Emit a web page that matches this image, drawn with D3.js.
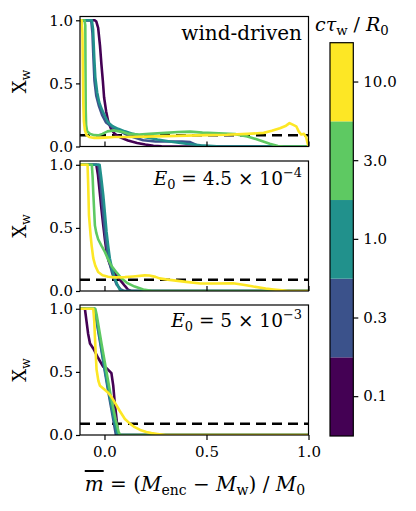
<!DOCTYPE html>
<html>
<head>
<meta charset="utf-8">
<script src="https://cdn.jsdelivr.net/npm/d3@7"></script>
<style>
  body { margin: 0; background: #fff; }
  text { font-family: "DejaVu Serif", serif; fill: #000; }
</style>
</head>
<body>
<script>
// Valores de la leyenda (colorbar) y colores viridis discretos
const colorTicks = ["0.1", "0.3", "1.0", "3.0", "10.0"];
const colors = ["#440154", "#3b528b", "#21918c", "#5ec962", "#fde725"];
const xTicks = [0, 0.5, 1.0];
const yTicks = [0, 0.5, 1.0];
const threshold = 0.09;

// Panel 1: wind-driven
const wind_01 = [[-0.12,1],[-0.048,1],[-0.04,0.99],[-0.031,0.94],[-0.022,0.8],[-0.015,0.65],[-0.008,0.52],[-0.002,0.39],[0.008,0.28],[0.018,0.2],[0.032,0.14],[0.05,0.1],[0.08,0.07],[0.115,0.047],[0.16,0.028],[0.2,0.016],[0.24,0.006],[0.28,0.001],[0.3,0],[1,0]];
const wind_03 = [[-0.12,1],[-0.065,1],[-0.059,0.9],[-0.054,0.7],[-0.049,0.52],[-0.04,0.4],[-0.027,0.32],[-0.012,0.25],[0.008,0.19],[0.04,0.15],[0.077,0.12],[0.12,0.085],[0.19,0.05],[0.25,0.04],[0.32,0.04],[0.38,0.04],[0.42,0.035],[0.45,0.012],[0.48,0.002],[0.52,0],[1,0]];
const wind_1 = [[-0.12,1],[-0.062,1],[-0.056,0.93],[-0.05,0.7],[-0.045,0.55],[-0.036,0.43],[-0.026,0.35],[-0.012,0.29],[0.003,0.24],[0.018,0.19],[0.04,0.16],[0.067,0.14],[0.1,0.12],[0.14,0.1],[0.2,0.074],[0.26,0.055],[0.32,0.04],[0.4,0.022],[0.47,0.01],[0.55,0.002],[0.6,0],[1,0]];
const wind_3 = [[-0.12,1],[-0.098,1],[-0.094,0.96],[-0.093,0.6],[-0.092,0.3],[-0.09,0.17],[-0.085,0.12],[-0.07,0.1],[-0.05,0.09],[-0.031,0.088],[-0.01,0.1],[0.015,0.12],[0.045,0.128],[0.08,0.118],[0.12,0.1],[0.17,0.095],[0.22,0.1],[0.3,0.108],[0.36,0.115],[0.42,0.118],[0.48,0.11],[0.56,0.105],[0.64,0.098],[0.7,0.08],[0.76,0.05],[0.81,0.022],[0.85,0.004],[0.88,0],[1,0]];
const wind_10 = [[-0.12,1],[-0.112,1],[-0.108,0.9],[-0.106,0.6],[-0.104,0.35],[-0.101,0.2],[-0.096,0.13],[-0.088,0.09],[-0.075,0.075],[-0.05,0.068],[-0.03,0.068],[0,0.07],[0.05,0.075],[0.1,0.075],[0.2,0.078],[0.3,0.082],[0.4,0.086],[0.5,0.09],[0.6,0.093],[0.7,0.1],[0.78,0.108],[0.82,0.125],[0.86,0.145],[0.89,0.165],[0.907,0.185],[0.92,0.175],[0.94,0.16],[0.952,0.12],[0.964,0.095],[0.978,0.1],[0.988,0.075],[0.995,0.03],[1.0,0]];

// Panel 2: E0 = 4.5e-4
const e45_01 = [[-0.12,1],[-0.04,1],[-0.032,0.92],[-0.023,0.78],[-0.015,0.65],[-0.006,0.52],[0.002,0.41],[0.01,0.31],[0.02,0.24],[0.034,0.18],[0.05,0.14],[0.065,0.11],[0.083,0.074],[0.1,0.04],[0.116,0.01],[0.13,0],[1,0]];
const e45_03 = [[-0.12,1],[-0.03,1],[-0.02,0.86],[-0.008,0.64],[0.005,0.42],[0.02,0.25],[0.04,0.13],[0.06,0.05],[0.08,0.012],[0.095,0],[1,0]];
const e45_1 = [[-0.12,1],[-0.024,1],[-0.016,0.9],[-0.006,0.76],[0.003,0.6],[0.01,0.47],[0.018,0.36],[0.026,0.26],[0.038,0.17],[0.051,0.1],[0.063,0.05],[0.075,0.01],[0.085,0],[1,0]];
const e45_3 = [[-0.12,1],[-0.062,1],[-0.058,0.9],[-0.055,0.78],[-0.051,0.65],[-0.047,0.52],[-0.04,0.46],[-0.031,0.41],[-0.015,0.36],[0.002,0.31],[0.018,0.25],[0.034,0.2],[0.06,0.145],[0.083,0.1],[0.11,0.065],[0.148,0.035],[0.19,0.012],[0.23,0.002],[0.26,0],[1,0]];
const e45_10 = [[-0.12,1],[-0.083,1],[-0.08,0.85],[-0.076,0.6],[-0.068,0.44],[-0.063,0.36],[-0.055,0.26],[-0.045,0.2],[-0.031,0.15],[-0.01,0.125],[0.018,0.113],[0.05,0.108],[0.1,0.11],[0.14,0.115],[0.197,0.124],[0.22,0.123],[0.25,0.112],[0.27,0.1],[0.3,0.092],[0.34,0.084],[0.4,0.072],[0.47,0.06],[0.55,0.06],[0.63,0.062],[0.68,0.05],[0.73,0.035],[0.79,0.02],[0.83,0.012],[0.87,0.005],[0.9,0],[1,0]];

// Panel 3: E0 = 5e-3
const e5_01 = [[-0.12,1],[-0.096,1],[-0.088,0.9],[-0.08,0.8],[-0.071,0.725],[-0.055,0.686],[-0.031,0.61],[-0.006,0.54],[0.01,0.53],[0.034,0.49],[0.043,0.39],[0.05,0.26],[0.059,0.127],[0.067,0],[1,0]];
const e5_03 = [[-0.12,1],[-0.05,1],[-0.044,0.95],[-0.02,0.72],[0.0,0.52],[0.02,0.33],[0.04,0.15],[0.056,0],[1,0]];
const e5_1 = [[-0.12,1],[-0.048,1],[-0.042,0.95],[-0.018,0.72],[0.004,0.5],[0.026,0.3],[0.046,0.13],[0.064,0],[1,0]];
const e5_3 = [[-0.12,1],[-0.045,1],[-0.038,0.95],[-0.014,0.72],[0.01,0.5],[0.032,0.3],[0.055,0.12],[0.07,0.02],[0.078,0],[1,0]];
const e5_10 = [[-0.12,1],[-0.055,1],[-0.05,0.9],[-0.047,0.78],[-0.043,0.65],[-0.039,0.52],[-0.03,0.43],[-0.022,0.39],[0,0.36],[0.018,0.335],[0.035,0.3],[0.051,0.257],[0.075,0.19],[0.1,0.127],[0.125,0.09],[0.148,0.062],[0.175,0.04],[0.205,0.023],[0.23,0.015],[0.26,0.008],[0.3,0],[1,0]];

const panels = [
    { series: [wind_01, wind_03, wind_1, wind_3, wind_10],
      size: 20,
      label: [{t: "wind-driven"}] },
    { series: [e45_01, e45_03, e45_1, e45_3, e45_10],
      size: 18.5,
      label: [{t: "E", it: true}, {t: "0", sub: true}, {t: " = 4.5 × 10"}, {t: "−4", sup: true}] },
    { series: [e5_01, e5_03, e5_1, e5_3, e5_10],
      size: 18.5,
      label: [{t: "E", it: true}, {t: "0", sub: true}, {t: " = 5 × 10"}, {t: "−3", sup: true}] }
];

const width = 416, height = 511;
const left = 80, right = 308.5;
const panelTops = [16.5, 161, 305];
const panelH = 130;

const svg = d3.select("body").append("svg")
    .attr("width", width)
    .attr("height", height);

// texto con subíndices / superíndices
function richText(g, x, y, anchor, size, parts) {
    const t = g.append("text")
        .attr("x", x).attr("y", y)
        .attr("text-anchor", anchor)
        .style("font-size", size + "px");
    let cur = 0;
    parts.forEach(p => {
        const off = p.sub ? size * 0.22 : p.sup ? -size * 0.42 : 0;
        const ts = t.append("tspan").attr("dy", off - cur).text(p.t);
        if (p.it) ts.style("font-style", "italic");
        if (p.sub || p.sup) ts.style("font-size", (size * 0.7) + "px");
        if (p.over) ts.style("text-decoration", "overline");
        cur = off;
    });
    return t;
}

const x = d3.scaleLinear().domain([-0.12, 1.0]).range([left, right]);

panels.forEach((p, i) => {
    const top = panelTops[i];
    const y = d3.scaleLinear().domain([0, 1.03]).range([top + panelH, top]);
    const g = svg.append("g");

    const clipId = "clip" + i;
    g.append("clipPath").attr("id", clipId)
        .append("rect")
        .attr("x", left).attr("y", top)
        .attr("width", right - left).attr("height", panelH);

    const plot = g.append("g").attr("clip-path", `url(#${clipId})`);

    // línea umbral
    plot.append("line")
        .attr("x1", left).attr("x2", right)
        .attr("y1", y(threshold)).attr("y2", y(threshold))
        .attr("stroke", "#000")
        .attr("stroke-width", 2.5)
        .attr("stroke-dasharray", "10,6");

    const line = d3.line()
        .x(d => x(d[0]))
        .y(d => y(d[1]));

    p.series.forEach((s, j) => {
        plot.append("path")
            .datum(s)
            .attr("d", line)
            .attr("fill", "none")
            .attr("stroke", colors[j])
            .attr("stroke-width", 2.6)
            .attr("stroke-linejoin", "round");
    });

    // ejes
    const yAxis = d3.axisLeft(y).tickValues(yTicks).tickFormat(d3.format(".1f")).tickSize(4).tickPadding(3);
    g.append("g")
        .attr("transform", `translate(${left},0)`)
        .call(yAxis)
        .call(a => a.select(".domain").remove())
        .selectAll("text")
        .style("font-size", "15px")
        .style("font-family", "DejaVu Serif");

    const last = i === panels.length - 1;
    const xAxis = d3.axisBottom(x).tickValues(xTicks).tickFormat(d3.format(".1f"))
        .tickSize(last ? 5 : -5).tickPadding(6);
    const xa = g.append("g")
        .attr("transform", `translate(0,${top + panelH})`)
        .call(xAxis)
        .call(a => a.select(".domain").remove());
    xa.selectAll("text")
        .style("font-size", "15px")
        .style("font-family", "DejaVu Serif");
    if (!last) xa.selectAll("text").remove();
    g.selectAll(".tick line").attr("stroke-width", 1.2);

    // marco
    g.append("rect")
        .attr("x", left).attr("y", top)
        .attr("width", right - left).attr("height", panelH)
        .attr("fill", "none")
        .attr("stroke", "#000")
        .attr("stroke-width", 1.2);

    // etiqueta del eje Y
    const yl = g.append("g")
        .attr("transform", `translate(26,${top + panelH / 2}) rotate(-90)`);
    richText(yl, 0, 0, "middle", 18, [{t: "X"}, {t: "w", sub: true}]);

    // etiqueta del panel
    richText(g, 302, [40, 185, 327][i], "end", p.size, p.label);
});

// etiqueta eje X
richText(svg, 195, 491, "middle", 20, [
    {t: "m", it: true, over: true}, {t: " = ("}, {t: "M", it: true}, {t: "enc", sub: true},
    {t: " − "}, {t: "M", it: true}, {t: "w", sub: true}, {t: ") / "},
    {t: "M", it: true}, {t: "0", sub: true}
]);

// barra de color
const cbX = 330, cbW = 23.3, cbTop = 42.7, cbBot = 436;
const cb = d3.scaleBand().domain(colorTicks.slice().reverse()).range([cbTop, cbBot]).padding(0);
const cbg = svg.append("g");
cbg.selectAll("rect.seg")
    .data(colorTicks)
    .enter()
    .append("rect")
    .attr("class", "seg")
    .attr("x", cbX)
    .attr("y", d => cb(d))
    .attr("width", cbW)
    .attr("height", cb.bandwidth())
    .attr("fill", (d, i) => colors[i]);
cbg.append("rect")
    .attr("x", cbX).attr("y", cbTop)
    .attr("width", cbW).attr("height", cbBot - cbTop)
    .attr("fill", "none")
    .attr("stroke", "#000")
    .attr("stroke-width", 1.2);
const cbAxis = d3.axisRight(cb).tickSize(5).tickPadding(5);
cbg.append("g")
    .attr("transform", `translate(${cbX + cbW},0)`)
    .call(cbAxis)
    .call(a => a.select(".domain").remove())
    .call(a => a.selectAll(".tick line").attr("stroke-width", 1.2))
    .selectAll("text")
    .style("font-size", "15px")
    .style("font-family", "DejaVu Serif");

richText(svg, 315, 31, "start", 19, [
    {t: "cτ", it: true}, {t: "w", sub: true}, {t: " / "}, {t: "R", it: true}, {t: "0", sub: true}
]);
</script>
</body>
</html>
